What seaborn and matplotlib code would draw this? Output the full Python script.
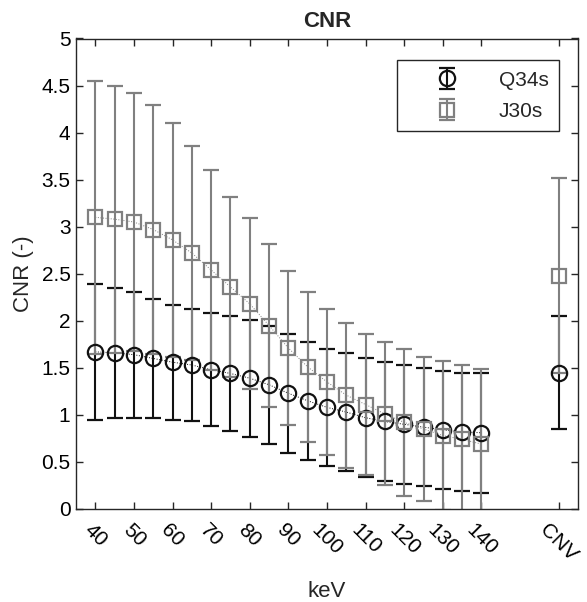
import numpy as np
import pandas as pd
import matplotlib
matplotlib.use("Agg")
import matplotlib.pyplot as plt
import seaborn as sns

# Energy levels (keV) of the virtual monoenergetic images
kev = [40, 45, 50, 55, 60, 65, 70, 75, 80, 85, 90, 95, 100, 105, 110, 115, 120, 125, 130, 135, 140]

# Q34s kernel: mean CNR and standard deviation
q34_mean = [1.67, 1.66, 1.64, 1.60, 1.56, 1.53, 1.48, 1.44, 1.39, 1.32, 1.23, 1.15,
            1.08, 1.03, 0.97, 0.93, 0.90, 0.87, 0.84, 0.82, 0.81]
q34_sd = [0.72, 0.69, 0.67, 0.63, 0.61, 0.60, 0.60, 0.61, 0.62, 0.63, 0.63, 0.63,
          0.62, 0.63, 0.63, 0.63, 0.63, 0.63, 0.63, 0.63, 0.64]

# J30s kernel: mean CNR and standard deviation
j30_mean = [3.10, 3.08, 3.05, 2.97, 2.86, 2.72, 2.54, 2.36, 2.18, 1.95, 1.71, 1.51,
            1.35, 1.21, 1.11, 1.01, 0.92, 0.85, 0.78, 0.74, 0.69]
j30_sd = [1.45, 1.42, 1.37, 1.32, 1.24, 1.14, 1.06, 0.96, 0.91, 0.87, 0.82, 0.80,
          0.78, 0.77, 0.75, 0.76, 0.78, 0.77, 0.79, 0.79, 0.80]

# Conventional reconstruction (CNV)
cnv_label = "CNV"
cnv_pos = 160
q34_cnv_mean, q34_cnv_sd = 1.45, 0.60
j30_cnv_mean, j30_cnv_sd = 2.48, 1.04

xtick_vals = [40, 50, 60, 70, 80, 90, 100, 110, 120, 130, 140, cnv_pos]
xtick_labels = ["40", "50", "60", "70", "80", "90", "100", "110", "120", "130", "140", cnv_label]
ytick_vals = [0, 0.5, 1, 1.5, 2, 2.5, 3, 3.5, 4, 4.5, 5]
ytick_labels = ["0", "0.5", "1", "1.5", "2", "2.5", "3", "3.5", "4", "4.5", "5"]

sns.set_theme(style="ticks")
plt.rcParams["font.family"] = ["Liberation Sans", "DejaVu Sans"]
plt.rcParams.update({
    "xtick.direction": "in",
    "ytick.direction": "in",
    "xtick.top": True,
    "ytick.right": True,
    "axes.edgecolor": "#262626",
    "axes.linewidth": 1.0,
})

df = pd.DataFrame({
    "kev": kev + kev,
    "cnr": q34_mean + j30_mean,
    "kernel": ["Q34s"] * len(kev) + ["J30s"] * len(kev),
})

fig = plt.figure(figsize=(5.87, 6.02), dpi=100)
ax = fig.add_axes([76 / 587, 1 - 509 / 602, 502 / 587, 470.5 / 602])

black = "#111111"
gray = "#808080"

# thin dotted connecting lines
sns.lineplot(data=df, x="kev", y="cnr", hue="kernel", palette={"Q34s": black, "J30s": gray},
             linestyle=":", linewidth=0.7, legend=False, ax=ax, zorder=1)

styles = {
    "Q34s": dict(color=black, marker="o", ms=11, mew=1.6, mfc="none"),
    "J30s": dict(color=gray, marker="s", ms=9.5, mew=1.6, mfc="none"),
}

handles = []
for name, m, s, cm, cs in [("Q34s", q34_mean, q34_sd, q34_cnv_mean, q34_cnv_sd),
                            ("J30s", j30_mean, j30_sd, j30_cnv_mean, j30_cnv_sd)]:
    st = styles[name]
    h = ax.errorbar(kev, m, yerr=s, linestyle="none", elinewidth=1.5, capsize=6,
                    capthick=1.5, zorder=2, label=name, **st)
    ax.errorbar([cnv_pos], [cm], yerr=[cs], linestyle="none", elinewidth=1.5, capsize=6,
                capthick=1.5, zorder=2, **st)
    handles.append(h)

ax.set_xlim(35, 165)
ax.set_ylim(0, 5)
ax.set_xticks(xtick_vals)
ax.set_xticklabels(xtick_labels, rotation=-45, ha="center", va="top", fontsize=15)
ax.set_yticks(ytick_vals)
ax.set_yticklabels(ytick_labels, fontsize=15)
ax.tick_params(axis="x", length=5, width=1, pad=8, colors="#262626", labelcolor="black")
ax.tick_params(axis="y", length=5, width=1, pad=4, colors="#262626", labelcolor="black")
for sp in ax.spines.values():
    sp.set_visible(True)

ax.set_xlabel("keV", fontsize=16, labelpad=12)
ax.set_ylabel("CNR (-)", fontsize=16, labelpad=5)
ax.set_title("CNR", fontsize=16, fontweight="bold", pad=8)

leg = ax.legend(handles, ["Q34s", "J30s"], loc="upper right", bbox_to_anchor=(0.962, 0.954),
                borderaxespad=0, fontsize=15, frameon=True, fancybox=False, framealpha=1,
                edgecolor="#262626", handlelength=3.8, handletextpad=0.6, borderpad=0.5,
                labelspacing=0.6)
leg.get_frame().set_linewidth(1.0)

fig.savefig("out.png", dpi=100, facecolor="white")
